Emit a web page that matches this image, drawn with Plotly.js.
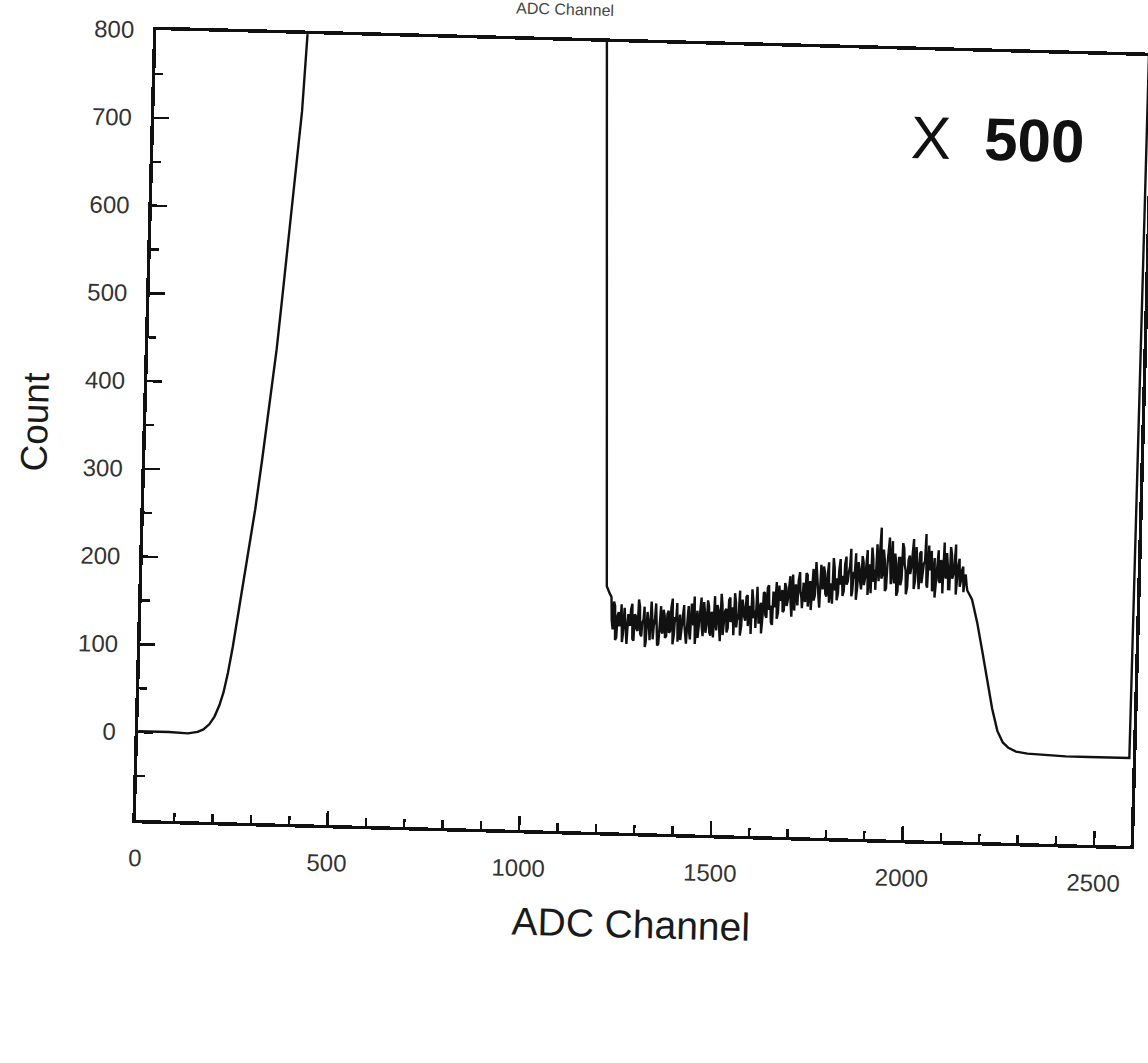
<!DOCTYPE html>
<html>
<head>
<meta charset="utf-8">
<script src="https://cdn.plot.ly/plotly-3.0.1.min.js"></script>
<style>
  html, body { margin: 0; padding: 0; background: #fff; overflow: hidden; }
  /* the printed figure sits slightly turned on the page */
  #chart { width: 1148px; height: 1063px; transform: rotate(1.5deg); transform-origin: 643px 438px; }
</style>
</head>
<body>
<div id="chart"></div>
<script>
// Rising edge of the low-channel region (goes off scale above 800)
const edgeChannel = [0, 80, 130, 155, 170, 185, 198, 210, 220, 230, 241, 260, 275, 290, 305, 320, 335, 345, 355, 365, 375, 385, 393, 400, 410, 450];
const edgeCount   = [1, 1, 0, 2, 5, 11, 20, 33, 48, 70, 100, 160, 205, 257, 315, 375, 440, 493, 550, 603, 656, 712, 790, 860, 950, 1000];

// Off-scale stretch and the steep fall onto the continuum
const fallChannel = [800, 1160, 1175, 1195, 1212, 1220];
const fallCount   = [1000, 1000, 800, 480, 180, 172];

// Continuum, read on two interleaved channel grids:
// grid A = 1225, 1230, 1235, ...   grid B = 1227, 1232, 1237, ...
const continuumStartA = 1225;
const continuumStartB = 1227;
const continuumStep = 5;
const continuumCountA = [
  168, 131, 158, 122, 151, 139, 117, 156, 128, 149,
  136, 161, 119, 147, 130, 158, 124, 143, 112, 152,
  133, 164, 121, 145, 137, 116, 159, 128, 148, 125,
  154, 131, 168, 127, 142, 119, 150, 136, 161, 122,
  146, 129, 163, 138, 117, 155, 141, 170, 126, 152,
  139, 160, 127, 149, 172, 133, 156, 121, 162, 144,
  158, 136, 171, 147, 128, 165, 152, 179, 139, 160,
  145, 174, 153, 130, 168, 157, 184, 142, 166, 151,
  177, 149, 186, 163, 141, 172, 190, 155, 169, 181,
  158, 184, 170, 197, 151, 179, 188, 164, 202, 173,
  190, 168, 199, 181, 159, 206, 176, 193, 171, 211,
  183, 202, 175, 214, 190, 167, 208, 196, 179, 218,
  199, 182, 221, 193, 210, 176, 204, 225, 188, 207,
  184, 215, 198, 229, 203, 180, 219, 207, 236, 194,
  255, 201, 218, 186, 227, 209, 240, 192, 214, 183,
  221, 198, 232, 207, 188, 224, 211, 243, 195, 216,
  186, 229, 205, 218, 191, 236, 209, 184, 222, 201,
  231, 194, 215, 240, 199, 212, 187, 226, 204, 238,
  206, 222, 197, 213, 201, 192
];
const continuumCountB = [
  142, 163, 119, 147, 135, 160, 126, 144, 115, 138,
  155, 121, 149, 133, 166, 127, 140, 158, 118, 145,
  120, 151, 136, 162, 114, 143, 131, 155, 123, 150,
  129, 158, 116, 147, 163, 132, 121, 155, 138, 117,
  160, 122, 149, 171, 133, 124, 158, 137, 165, 130,
  167, 131, 154, 125, 146, 162, 139, 175, 128, 155,
  131, 168, 143, 160, 176, 137, 146, 128, 169, 150,
  172, 139, 162, 181, 148, 137, 170, 159, 131, 178,
  152, 183, 158, 144, 179, 161, 148, 186, 170, 156,
  189, 163, 182, 168, 199, 158, 173, 192, 180, 161,
  174, 201, 163, 192, 185, 170, 214, 181, 162, 197,
  209, 178, 197, 168, 186, 219, 182, 171, 205, 189,
  176, 212, 189, 203, 230, 181, 196, 172, 215, 193,
  222, 189, 210, 178, 213, 232, 193, 184, 211, 226,
  197, 230, 183, 212, 244, 191, 205, 226, 178, 221,
  190, 238, 214, 180, 219, 203, 229, 186, 234, 209,
  227, 193, 215, 249, 188, 209, 230, 196, 177, 218,
  196, 220, 182, 209, 228, 187, 235, 199, 214, 181,
  214, 190, 209, 184, 204, 186
];

// Fall-off after the continuum, flat baseline, and the rise at the last channels
const tailChannel = [2165, 2180, 2195, 2210, 2225, 2240, 2255, 2270, 2290, 2320, 2360, 2420, 2480, 2540, 2586, 2590];
const tailCount   = [176, 150, 118, 86, 52, 27, 14, 8, 4, 2, 1, 0, 0, 0, 0, 1000];

const xTickVals = [0, 500, 1000, 1500, 2000, 2500];
const yTickVals = [0, 100, 200, 300, 400, 500, 600, 700, 800];

const channel = [];
const count = [];
edgeChannel.forEach((c, i) => { channel.push(c); count.push(edgeCount[i]); });
fallChannel.forEach((c, i) => { channel.push(c); count.push(fallCount[i]); });
continuumCountA.forEach((v, i) => {
  channel.push(continuumStartA + i * continuumStep); count.push(v);
  channel.push(continuumStartB + i * continuumStep); count.push(continuumCountB[i]);
});
tailChannel.forEach((c, i) => { channel.push(c); count.push(tailCount[i]); });

const FONT = 'Liberation Sans, Arial, Helvetica, sans-serif';
const INK = '#111';

const spectrum = {
  type: 'scatter',
  mode: 'lines',
  x: channel,
  y: count,
  line: { color: INK, width: 2.4 },
  hoverinfo: 'skip'
};

const layout = {
  width: 1148,
  height: 1063,
  margin: { l: 146, r: 7, t: 43, b: 230 },
  paper_bgcolor: '#fff',
  plot_bgcolor: '#fff',
  showlegend: false,
  font: { family: FONT, color: '#222' },
  xaxis: {
    range: [0, 2595],
    tickvals: xTickVals,
    ticktext: xTickVals.map(String),
    ticks: 'inside', ticklen: 14, tickwidth: 2.5, tickcolor: INK,
    minor: { dtick: 100, tick0: 0, ticks: 'inside', ticklen: 8, tickwidth: 2.5, tickcolor: INK },
    showline: true, linewidth: 3.5, linecolor: INK, mirror: true,
    showgrid: false, zeroline: false,
    tickfont: { family: FONT, size: 24, color: '#333' },
    ticklabelstandoff: 14,
    title: { text: 'ADC Channel', font: { family: FONT, size: 39, color: '#1a1a1a' }, standoff: 28 },
    fixedrange: true
  },
  yaxis: {
    range: [-100, 800],
    tickvals: yTickVals,
    ticktext: yTickVals.map(String),
    ticks: 'inside', ticklen: 15, tickwidth: 2.5, tickcolor: INK,
    minor: { dtick: 50, tick0: 0, ticks: 'inside', ticklen: 8, tickwidth: 2.5, tickcolor: INK },
    showline: true, linewidth: 3.5, linecolor: INK, mirror: true,
    showgrid: false, zeroline: false,
    tickfont: { family: FONT, size: 24, color: '#333' },
    ticklabelstandoff: 14,
    title: { text: 'Count', font: { family: FONT, size: 37, color: '#1a1a1a' }, standoff: 25 },
    fixedrange: true
  },
  annotations: [
    {
      text: 'X&nbsp;&nbsp;<b>500</b>',
      xref: 'paper', yref: 'paper', x: 0.848, y: 0.889,
      xanchor: 'center', yanchor: 'middle', showarrow: false,
      font: { family: FONT, size: 60, color: INK }
    },
    {
      text: 'ADC Channel',
      xref: 'paper', yref: 'paper', x: 0.41, y: 1.026,
      xanchor: 'center', yanchor: 'bottom', showarrow: false,
      font: { family: FONT, size: 16, color: '#444' }
    }
  ]
};

Plotly.newPlot('chart', [spectrum], layout, { displayModeBar: false, staticPlot: true });
</script>
</body>
</html>
